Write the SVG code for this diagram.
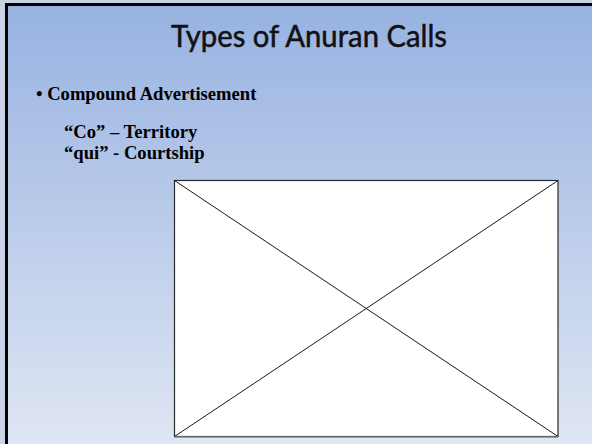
<svg xmlns="http://www.w3.org/2000/svg" width="592" height="444" viewBox="0 0 592 444">
<defs>
<linearGradient id="bg" x1="0" y1="0" x2="0" y2="1">
<stop offset="0" stop-color="#97b2e1"/>
<stop offset="1" stop-color="#dfe6f3"/>
</linearGradient>
</defs>
<style>
.body{font-family:"Liberation Serif","Times New Roman",serif;font-weight:bold;font-size:18.6px;fill:#000}
.title{font-family:Lato,"Open Sans",sans-serif;font-size:30px;fill:#111;stroke:#111;stroke-width:0.5}
.ph{fill:#fff;stroke:#2a2a2a;stroke-width:1.2}
.x{stroke:#1a1a1a;stroke-width:1}
</style>
<rect x="0" y="0" width="592" height="444" fill="#c9d3e6"/>
<rect x="5" y="3" width="587" height="441" fill="url(#bg)"/>
<path d="M6.5 444 V4.5 H592" fill="none" stroke="#000" stroke-width="3"/>
<text class="title" x="309" y="47" text-anchor="middle" textLength="276" lengthAdjust="spacingAndGlyphs">Types of Anuran Calls</text>
<text class="body" x="36" y="100">• Compound Advertisement</text>
<text class="body" x="64" y="138">“Co” – Territory</text>
<text class="body" x="64" y="159">“qui” - Courtship</text>
<g id="placeholder">
<rect class="ph" x="174.5" y="180.5" width="383.5" height="256"/>
<line class="x" x1="174.5" y1="180.5" x2="558" y2="436.5"/>
<line class="x" x1="558" y1="180.5" x2="174.5" y2="436.5"/>
<line x1="174.5" y1="436.8" x2="558" y2="436.8" stroke="#666" stroke-width="1.5"/>
</g>
</svg>
